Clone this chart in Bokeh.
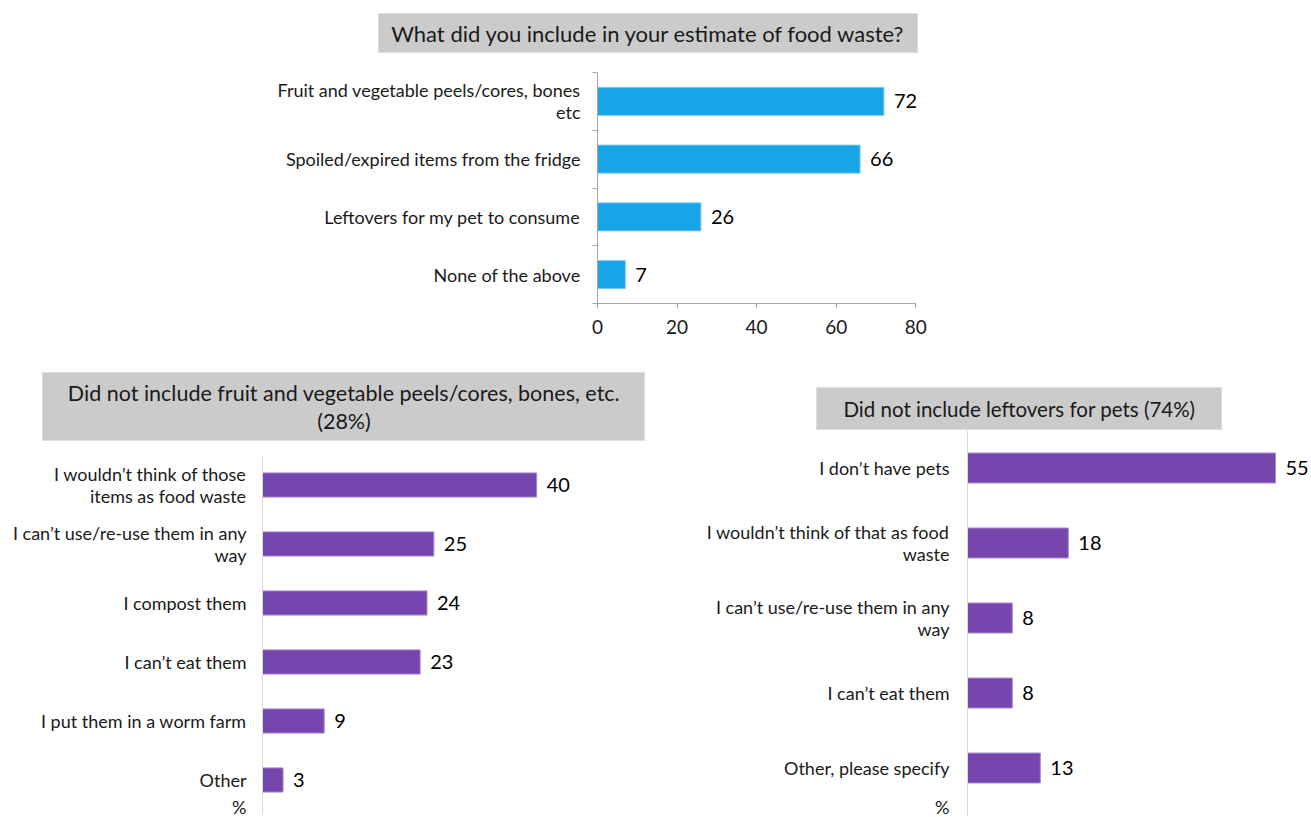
from bokeh.plotting import figure
from bokeh.models import Range1d, FixedTicker, Spacer, ColumnDataSource
from bokeh.layouts import column, row
from bokeh.embed import file_html
from bokeh.resources import INLINE
from bokeh.core.properties import value

# ---------------- data ----------------
top_title = "What did you include in your estimate of food waste?"
top_cats = ["Fruit and vegetable peels/cores, bones\netc",
            "Spoiled/expired items from the fridge",
            "Leftovers for my pet to consume",
            "None of the above"]
top_vals = [72, 66, 26, 7]
top_ticks = [0, 20, 40, 60, 80]

left_title = "Did not include fruit and vegetable peels/cores, bones, etc.\n(28%)"
left_cats = ["I wouldn\u2019t think of those\nitems as food waste",
             "I can\u2019t use/re-use them in any\nway",
             "I compost them",
             "I can\u2019t eat them",
             "I put them in a worm farm",
             "Other"]
left_vals = [40, 25, 24, 23, 9, 3]

right_title = "Did not include leftovers for pets (74%)"
right_cats = ["I don\u2019t have pets",
              "I wouldn\u2019t think of that as food\nwaste",
              "I can\u2019t use/re-use them in any\nway",
              "I can\u2019t eat them",
              "Other, please specify"]
right_vals = [55, 18, 8, 8, 13]
unit_label = "%"

# ---------------- style ----------------
FONT = "Lato"
BLUE = "#17a5e8"
BLUE_EDGE = "#7cc9f0"
PURPLE = "#7645ae"
PURPLE_EDGE = "#a98bd0"
GREY_BOX = "#cbcbcb"
TEXT = "#1a1a1a"


def title_box(text, w, h, size):
    t = figure(width=w, height=h, x_range=Range1d(0, 1), y_range=Range1d(0, 1),
               toolbar_location=None, output_backend="svg",
               x_axis_location=None, y_axis_location=None, min_border=0)
    t.grid.visible = False
    t.outline_line_color = "#dedede"
    t.background_fill_color = GREY_BOX
    t.border_fill_color = GREY_BOX
    t.text(x=[0.5], y=[0.5], text=[text], text_align="center", text_baseline="middle",
           text_font=value(FONT), text_font_size=size, text_color=TEXT,
           text_line_height=1.05)
    return t


def bar_chart(cats, vals, width, height, mb_left, mb_right, mb_top, mb_bottom,
              xmax, ybottom, color, edge, bar_h, axis_color, boundary_ticks,
              standoff, unit_pos=None):
    n = len(cats)
    src = ColumnDataSource(dict(y=list(range(n)), v=vals, lab=[str(v) for v in vals]))
    p = figure(width=width, height=height, toolbar_location=None, output_backend="svg",
               x_range=Range1d(0, xmax), y_range=Range1d(ybottom, -0.5),
               min_border_left=mb_left, min_border_right=mb_right,
               min_border_top=mb_top, min_border_bottom=mb_bottom)
    p.grid.visible = False
    p.outline_line_color = None
    p.hbar(y="y", left=0, right="v", height=bar_h, source=src,
           fill_color=color, line_color=edge, line_width=1)
    p.text(x="v", y="y", text="lab", source=src, x_offset=10,
           text_baseline="middle", text_align="left",
           text_font=value(FONT), text_font_size="20px", text_color="#000000")
    ya = p.yaxis[0]
    ticks = list(range(n))
    overrides = {i: c for i, c in enumerate(cats)}
    if unit_pos is not None:
        ticks.append(unit_pos)
        overrides[unit_pos] = unit_label
    ya.ticker = FixedTicker(ticks=ticks,
                            minor_ticks=[i - 0.5 for i in range(n + 1)])
    ya.major_label_overrides = overrides
    ya.major_tick_line_color = None
    ya.major_tick_out = 0
    ya.major_tick_in = 0
    if boundary_ticks:
        ya.minor_tick_line_color = axis_color
        ya.minor_tick_out = 5
        ya.minor_tick_in = 0
    else:
        ya.minor_tick_line_color = None
    ya.axis_line_color = axis_color
    ya.major_label_text_font = FONT
    ya.major_label_text_font_size = "18px"
    ya.major_label_text_color = TEXT
    ya.major_label_text_line_height = 1.0
    ya.major_label_standoff = standoff
    return p


# ---------------- top chart ----------------
t1 = title_box(top_title, 540, 40, "22px")
p1 = bar_chart(top_cats, top_vals, 955, 307, 597, 0, 19, 57,
               90, len(top_cats) - 0.5, BLUE, BLUE_EDGE, 0.485, "#a6a6a6", True, 12)
xa = p1.xaxis[0]
xa.ticker = FixedTicker(ticks=top_ticks, minor_ticks=[])
xa.bounds = (top_ticks[0], top_ticks[-1])
xa.axis_line_color = "#a6a6a6"
xa.major_tick_line_color = "#a6a6a6"
xa.major_tick_out = 5
xa.major_tick_in = 0
xa.minor_tick_line_color = None
xa.major_label_text_font = FONT
xa.major_label_text_font_size = "19px"
xa.major_label_text_color = TEXT
xa.major_label_standoff = 11

# ---------------- bottom left ----------------
t2 = title_box(left_title, 603, 69, "21.5px")
p2 = bar_chart(left_cats, left_vals, 647, 376, 262, 8, 14, 3,
               55, 5.585, PURPLE, PURPLE_EDGE, 0.41, "#d9d9d9", False, 12,
               unit_pos=5.48)
p2.xaxis.visible = False

# ---------------- bottom right ----------------
t3 = title_box(right_title, 406, 43, "20.5px")
p3 = bar_chart(right_cats, right_vals, 664, 387, 320, 0, 0, 2,
               344 / 5.6, 4.633, PURPLE, PURPLE_EDGE, 0.4, "#d9d9d9", False, 14,
               unit_pos=4.527)
p3.xaxis.visible = False

# ---------------- layout ----------------
top = column(Spacer(height=13),
             row(Spacer(width=378, height=40), t1),
             p1)
bl = column(Spacer(height=12),
            row(Spacer(width=42, height=69), t2),
            p2)
br = column(Spacer(height=27),
            row(Spacer(width=169, height=43), t3),
            p3)
layout = column(top, row(bl, br))

open("out.html", "w").write(file_html(layout, INLINE))
